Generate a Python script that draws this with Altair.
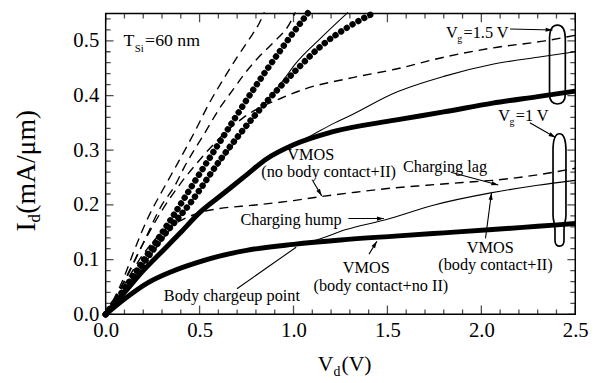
import altair as alt
import pandas as pd

FONT = "Liberation Serif"

# ---------------- curve data (Vd in V, Id in mA/um) ----------------
# thick beaded curves
a_vd = [0, 0.1, 0.2, 0.35, 0.5, 0.65, 0.8, 0.95, 1.08]
a_id = [0, 0.047, 0.098, 0.175, 0.257, 0.338, 0.418, 0.492, 0.552]
b_vd = [0, 0.1, 0.2, 0.3, 0.452, 0.609, 0.81, 1.01, 1.145, 1.29, 1.434]
b_id = [0, 0.045, 0.093, 0.14, 0.204, 0.282, 0.37, 0.445, 0.49, 0.525, 0.552]
# thick solid curves
t15_vd = [0, 0.1, 0.2, 0.3, 0.4, 0.5, 0.62, 0.75, 0.856, 1.0, 1.2, 1.54, 1.8, 2.06, 2.3, 2.5]
t15_id = [0, 0.04, 0.08, 0.115, 0.15, 0.186, 0.219, 0.255, 0.284, 0.31, 0.333, 0.355, 0.37, 0.386, 0.398, 0.408]
t10_vd = [0, 0.1, 0.226, 0.35, 0.49, 0.6, 0.75, 1.0, 1.25, 1.54, 1.8, 2.06, 2.3, 2.5]
t10_id = [0, 0.028, 0.058, 0.078, 0.095, 0.106, 0.117, 0.128, 0.136, 0.143, 0.149, 0.155, 0.161, 0.166]
# thin solid curves
s20_vd = [0, 0.452, 0.81, 0.95, 1.01, 1.145, 1.29]
s20_id = [0, 0.204, 0.37, 0.43, 0.458, 0.505, 0.552]
s15_vd = [0, 0.2, 0.4, 0.62, 0.856, 1.0, 1.1, 1.22, 1.3, 1.54, 1.8, 2.06, 2.3, 2.5]
s15_id = [0, 0.08, 0.15, 0.219, 0.284, 0.31, 0.328, 0.35, 0.363, 0.405, 0.435, 0.457, 0.47, 0.48]
s10_vd = [0, 0.226, 0.49, 0.75, 1.0, 1.1, 1.28, 1.49, 1.75, 2.05, 2.3, 2.5]
s10_id = [0, 0.058, 0.095, 0.117, 0.128, 0.134, 0.155, 0.173, 0.2, 0.222, 0.236, 0.245]
# dashed curves
da_vd = [0, 0.1, 0.15, 0.226, 0.3, 0.383, 0.473, 0.55, 0.636, 0.7, 0.762, 0.819, 0.845]
da_id = [0, 0.07, 0.115, 0.177, 0.225, 0.276, 0.333, 0.385, 0.435, 0.47, 0.502, 0.533, 0.552]
db_vd = [0, 0.1, 0.2, 0.294, 0.368, 0.42, 0.525, 0.609, 0.683, 0.74, 0.814, 0.893, 0.977, 1.01]
db_id = [0, 0.06, 0.13, 0.197, 0.235, 0.27, 0.33, 0.378, 0.413, 0.44, 0.47, 0.497, 0.53, 0.552]
d15_vd = [0, 0.1, 0.2, 0.3, 0.4, 0.49, 0.6, 0.735, 0.82, 0.92, 1.06, 1.29, 1.54, 1.8, 2.06, 2.34, 2.5]
d15_id = [0, 0.062, 0.13, 0.19, 0.24, 0.278, 0.32, 0.36, 0.378, 0.393, 0.412, 0.431, 0.448, 0.47, 0.487, 0.5, 0.51]
d10_vd = [0, 0.1, 0.2, 0.3, 0.42, 0.5, 0.58, 0.8, 1.0, 1.14, 1.3, 1.5, 1.71, 1.9, 2.06, 2.3, 2.5]
d10_id = [0, 0.055, 0.11, 0.15, 0.175, 0.186, 0.192, 0.2, 0.208, 0.215, 0.222, 0.23, 0.236, 0.241, 0.245, 0.255, 0.267]

# ---------------- axis ticks ----------------
x_major = [0.0, 0.5, 1.0, 1.5, 2.0, 2.5]
x_minor = [round(i * 0.1, 1) for i in range(26) if i % 5]
y_major = [0.0, 0.1, 0.2, 0.3, 0.4, 0.5]
y_minor = [round(i * 0.02, 2) for i in range(28) if i % 5]

# ---------------- annotations ----------------
ann_text = ["VMOS", "(no body contact+II)", "Charging lag", "Charging hump",
            "Body chargeup point", "VMOS", "(body contact+no II)", "VMOS", "(body contact+II)"]
ann_vd = [1.092, 1.187, 1.807, 0.987, 0.672, 1.387, 1.465, 2.048, 2.075]
ann_id = [0.2906, 0.26, 0.269, 0.173, 0.034, 0.085, 0.052, 0.121, 0.09]

# label pieces with subscripts: text, vd, id, size
lab_text = ["T", "Si", "=60 nm", "V", "g", "=1.5 V", "V", "g", "=1 V"]
lab_vd = [0.0945, 0.155, 0.21, 1.812, 1.872, 1.905, 2.09, 2.15, 2.183]
lab_id = [0.491, 0.48, 0.491, 0.505, 0.498, 0.505, 0.354, 0.347, 0.354]
lab_size = [18, 11, 18, 16.5, 10, 16.5, 16.5, 10, 16.5]

# arrows: start -> end
arr_x1 = [2.153, 2.258, 1.103, 1.838, 1.292, 1.402, 2.022, 0.699]
arr_y1 = [0.5217, 0.3502, 0.2437, 0.2599, 0.1751, 0.1101, 0.139, 0.0469]
arr_x2 = [2.379, 2.395, 1.150, 2.090, 1.481, 1.444, 2.054, 1.014]
arr_y2 = [0.5199, 0.3231, 0.2166, 0.2365, 0.1751, 0.1336, 0.222, 0.1227]
arr_head = [True, True, True, True, True, True, True, False]
arr_angle = [91.3, 120, 149, 105, 90, 31.6, 7.4, 0]

# axis titles (pieces)
xt_text = ["V", "d", "(V)"]
xt_vd = [1.129, 1.213, 1.255]
xt_id = [-0.1029, -0.1119, -0.1029]
xt_size = [22, 14, 22]
yt_text = ["I", "d", "(mA/\u03bcm)"]
yt_vd = [-0.378, -0.347, -0.378]
yt_id = [0.1516, 0.168, 0.184]
yt_size = [28, 17, 28]

# ---------------- build ----------------
def frame(name, vd, idv):
    return pd.DataFrame({"vd": vd, "id": idv, "curve": name})

xs = alt.Scale(domain=[0, 2.5], nice=False, zero=False)
ys = alt.Scale(domain=[0, 0.55], nice=False, zero=False)
xaxis = alt.Axis(values=x_major, format=".1f", ticks=False, domain=False, grid=False,
                 labelFont=FONT, labelFontSize=21, labelColor="black", labelPadding=5,
                 labelFlush=False, labelOverlap=False, title=None)
yaxis = alt.Axis(values=y_major, format=".1f", ticks=False, domain=False, grid=False,
                 labelFont=FONT, labelFontSize=21, labelColor="black", labelPadding=7,
                 labelOverlap=False, title=None)
X = alt.X("vd:Q", scale=xs, axis=xaxis)
Y = alt.Y("id:Q", scale=ys, axis=yaxis)

beads = pd.concat([frame("A", a_vd, a_id), frame("B", b_vd, b_id)])
thick = pd.concat([frame("T15", t15_vd, t15_id), frame("T10", t10_vd, t10_id)])
thin = pd.concat([frame("S20", s20_vd, s20_id), frame("S15", s15_vd, s15_id),
                  frame("S10", s10_vd, s10_id)])
dashed = pd.concat([frame("Da", da_vd, da_id), frame("Db", db_vd, db_id),
                    frame("D15", d15_vd, d15_id), frame("D10", d10_vd, d10_id)])

layers = []
layers.append(alt.Chart(dashed).mark_line(color="black", strokeWidth=1.4, strokeDash=[9, 6],
                                          interpolate="monotone")
              .encode(x=X, y=Y, detail="curve:N"))
layers.append(alt.Chart(thin).mark_line(color="black", strokeWidth=1.1, interpolate="monotone")
              .encode(x=X, y=Y, detail="curve:N"))
layers.append(alt.Chart(thick).mark_line(color="black", strokeWidth=5, interpolate="monotone")
              .encode(x=X, y=Y, detail="curve:N"))
layers.append(alt.Chart(beads).mark_line(color="black", strokeWidth=6.5, strokeDash=[0.01, 6.8],
                                         strokeCap="round", interpolate="monotone")
              .encode(x=X, y=Y, detail="curve:N"))

# ticks (inward, clipped)
tick_rows = []
for v in x_major:
    tick_rows += [(v, 0.0, "xM"), (v, 0.55, "xM")]
for v in x_minor:
    tick_rows += [(v, 0.0, "xm"), (v, 0.55, "xm")]
for v in y_major:
    tick_rows += [(0.0, v, "yM"), (2.5, v, "yM")]
for v in y_minor:
    tick_rows += [(0.0, v, "ym"), (2.5, v, "ym")]
ticks = pd.DataFrame(tick_rows, columns=["vd", "id", "k"])
for k, orient, size in [("xM", "vertical", 18), ("xm", "vertical", 10),
                        ("yM", "horizontal", 16), ("ym", "horizontal", 10)]:
    layers.append(alt.Chart(ticks[ticks.k == k]).mark_tick(
        orient=orient, size=size, thickness=1.3, color="black", clip=True)
        .encode(x=X, y=Y))

# annotation texts
ann = pd.DataFrame({"vd": ann_vd, "id": ann_id, "t": ann_text})
layers.append(alt.Chart(ann).mark_text(font=FONT, fontSize=16.5, color="black",
                                       align="center", baseline="middle")
              .encode(x=X, y=Y, text="t:N"))

labs = pd.DataFrame({"vd": lab_vd, "id": lab_id, "t": lab_text, "s": lab_size})
layers.append(alt.Chart(labs).mark_text(font=FONT, color="black", align="left",
                                        baseline="alphabetic")
              .encode(x=X, y=Y, text="t:N", size=alt.Size("s:Q", scale=None, legend=None)))

# arrows
segs = []
for i in range(len(arr_x1)):
    segs.append((i, 0, arr_x1[i], arr_y1[i]))
    segs.append((i, 1, arr_x2[i], arr_y2[i]))
segdf = pd.DataFrame(segs, columns=["g", "o", "vd", "id"])
layers.append(alt.Chart(segdf).mark_line(color="black", strokeWidth=1.1)
              .encode(x=X, y=Y, detail="g:N", order="o:Q"))
heads = pd.DataFrame({"vd": arr_x2, "id": arr_y2, "ang": arr_angle, "h": arr_head})
heads = heads[heads.h]
layers.append(alt.Chart(heads).mark_point(shape="M0,0 L0.6,2 L-0.6,2 Z", size=49, filled=True,
                                          color="black", opacity=1, strokeWidth=0)
              .encode(x=X, y=Y, angle=alt.Angle("ang:Q", scale=None)))

# loops around curve ends
loop1 = pd.DataFrame({"vd": [2.405], "id": [0.4567]})
loop2 = pd.DataFrame({"vd": [2.416], "id": [0.2274]})
p1 = ("M0,-1 C0.14,-1 0.2,-0.85 0.2,-0.65 L0.2,0.75 C0.2,0.92 0.12,1 0,1 "
      "C-0.12,1 -0.2,0.92 -0.2,0.75 L-0.2,-0.65 C-0.2,-0.85 -0.14,-1 0,-1 Z")
p2 = ("M0,-1 C0.09,-1 0.115,-0.85 0.115,-0.7 L0.115,0.45 C0.115,0.55 0.08,0.6 0.08,0.7 "
      "L0.08,0.9 C0.08,0.97 0.04,1 0,1 C-0.04,1 -0.08,0.97 -0.08,0.9 L-0.08,0.7 "
      "C-0.08,0.6 -0.115,0.55 -0.115,0.45 L-0.115,-0.7 C-0.115,-0.85 -0.09,-1 0,-1 Z")
layers.append(alt.Chart(loop1).mark_point(shape=p1, size=80 * 80, filled=False, color="black",
                                          strokeWidth=1.7, opacity=1).encode(x=X, y=Y))
layers.append(alt.Chart(loop2).mark_point(shape=p2, size=114 * 114, filled=False, color="black",
                                          strokeWidth=1.7, opacity=1).encode(x=X, y=Y))

# axis titles
xt = pd.DataFrame({"vd": xt_vd, "id": xt_id, "t": xt_text, "s": xt_size})
layers.append(alt.Chart(xt).mark_text(font=FONT, color="black", align="left",
                                      baseline="alphabetic")
              .encode(x=X, y=Y, text="t:N", size=alt.Size("s:Q", scale=None, legend=None)))
yt = pd.DataFrame({"vd": yt_vd, "id": yt_id, "t": yt_text, "s": yt_size})
layers.append(alt.Chart(yt).mark_text(font=FONT, color="black", align="left",
                                      baseline="alphabetic", angle=270)
              .encode(x=X, y=Y, text="t:N", size=alt.Size("s:Q", scale=None, legend=None)))

chart = alt.layer(*layers).properties(
    width=476, height=305,
    autosize=alt.AutoSizeParams(type="none"),
    padding={"left": 99, "top": 3, "right": 20, "bottom": 64},
    background="white",
).configure_view(stroke="black", strokeWidth=1.5)

chart.save("out.html", embed_options={"renderer": "svg", "actions": False})
